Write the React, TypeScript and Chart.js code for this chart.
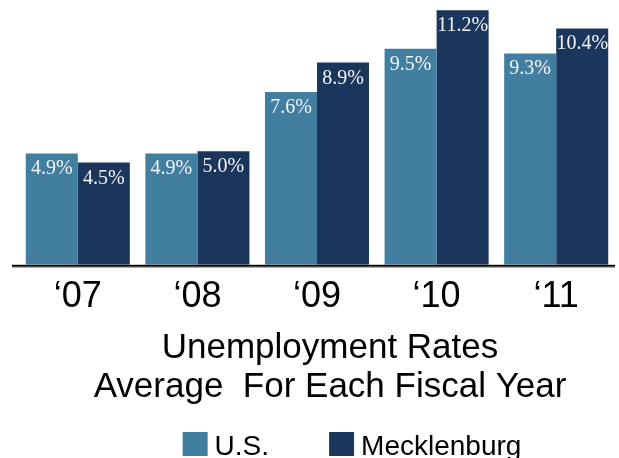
import React, { useEffect, useRef } from "react";
import { Chart, registerables } from "chart.js";

Chart.register(...registerables);

// ---- data ----
const years = ["\u201807", "\u201808", "\u201809", "\u201810", "\u201811"];
const usRates = [4.9, 4.9, 7.6, 9.5, 9.3];
const mecklenburgRates = [4.5, 5.0, 8.9, 11.2, 10.4];
const seriesNames = ["U.S.", "Mecklenburg"];
const titleLines = ["Unemployment Rates", "Average  For Each Fiscal Year"];

// ---- styles ----
const US_COLOR = "#417ea0";
const MECK_COLOR = "#1a365c";
const SANS = "'Liberation Sans', Arial, sans-serif";
const SERIF = "'Liberation Serif', 'Times New Roman', serif";

const valueLabelPlugin = {
  id: "valueLabels",
  afterDatasetsDraw(chart: any) {
    const ctx = chart.ctx;
    ctx.save();
    ctx.font = `20px ${SERIF}`;
    ctx.fillStyle = "#f4f4f4";
    ctx.textAlign = "center";
    ctx.textBaseline = "alphabetic";
    chart.data.datasets.forEach((ds: any, di: number) => {
      const meta = chart.getDatasetMeta(di);
      meta.data.forEach((el: any, i: number) => {
        const v = ds.data[i] as number;
        ctx.fillText(v.toFixed(1) + "%", el.x, el.y + 21);
      });
    });
    ctx.restore();
  },
};

const baselinePlugin = {
  id: "baseline",
  afterDatasetsDraw(chart: any) {
    const { ctx, chartArea } = chart;
    ctx.save();
    ctx.fillStyle = "#000";
    ctx.fillRect(chartArea.left - 6, chartArea.bottom, chartArea.right - chartArea.left + 5, 2);
    ctx.fillStyle = "#9a9a9a";
    ctx.fillRect(chartArea.left - 6, chartArea.bottom + 2, chartArea.right - chartArea.left + 5, 1);
    ctx.restore();
  },
};

const captionPlugin = {
  id: "caption",
  afterDraw(chart: any) {
    const ctx = chart.ctx;
    ctx.save();
    // title
    ctx.font = `35px ${SANS}`;
    ctx.fillStyle = "#000";
    ctx.textAlign = "center";
    ctx.textBaseline = "alphabetic";
    const cx = 330;
    titleLines.forEach((line, i) => {
      ctx.fillText(line, cx, 358 + i * 39);
    });
    // legend
    ctx.font = `28px ${SANS}`;
    const box = 25;
    const boxH = 24;
    const gap = 7;
    const itemGap = 60;
    const items = chart.data.datasets.map((ds: any) => ({
      text: ds.label as string,
      color: ds.backgroundColor as string,
      w: ctx.measureText(ds.label).width,
    }));
    let total = 0;
    items.forEach((it: any, i: number) => {
      total += box + gap + it.w + (i < items.length - 1 ? itemGap : 0);
    });
    let x = 352 - total / 2;
    const baseY = 455;
    ctx.textAlign = "left";
    items.forEach((it: any) => {
      ctx.fillStyle = it.color;
      ctx.fillRect(x, 432, box, boxH);
      x += box + gap;
      ctx.fillStyle = "#000";
      ctx.fillText(it.text, x, baseY);
      x += it.w + itemGap;
    });
    ctx.restore();
  },
};

export default function App() {
  const canvasRef = useRef<HTMLCanvasElement | null>(null);

  useEffect(() => {
    if (!canvasRef.current) return;
    const chart = new Chart(canvasRef.current, {
      type: "bar",
      data: {
        labels: years,
        datasets: [
          {
            label: seriesNames[0],
            data: usRates,
            backgroundColor: US_COLOR,
            borderWidth: 0,
            barPercentage: 1,
            categoryPercentage: 0.87,
          },
          {
            label: seriesNames[1],
            data: mecklenburgRates,
            backgroundColor: MECK_COLOR,
            borderWidth: 0,
            barPercentage: 1,
            categoryPercentage: 0.87,
          },
        ],
      },
      options: {
        animation: false,
        responsive: true,
        maintainAspectRatio: false,
        layout: { padding: { left: 18, right: 3, top: 0, bottom: 128 } },
        plugins: {
          legend: { display: false },
          title: { display: false },
          tooltip: { enabled: false },
        },
        scales: {
          x: {
            grid: { display: false, drawTicks: false },
            border: { display: false },
            ticks: {
              color: "#000",
              padding: 11,
              font: { family: SANS, size: 36 },
            },
          },
          y: {
            display: false,
            min: 0,
            max: 11.65,
          },
        },
      },
      plugins: [valueLabelPlugin, baselinePlugin, captionPlugin],
    });
    return () => chart.destroy();
  }, []);

  return (
    <div style={{ position: "fixed", left: 0, top: 0, width: 619, height: 458, background: "#fff" }}>
      <canvas ref={canvasRef} />
    </div>
  );
}
